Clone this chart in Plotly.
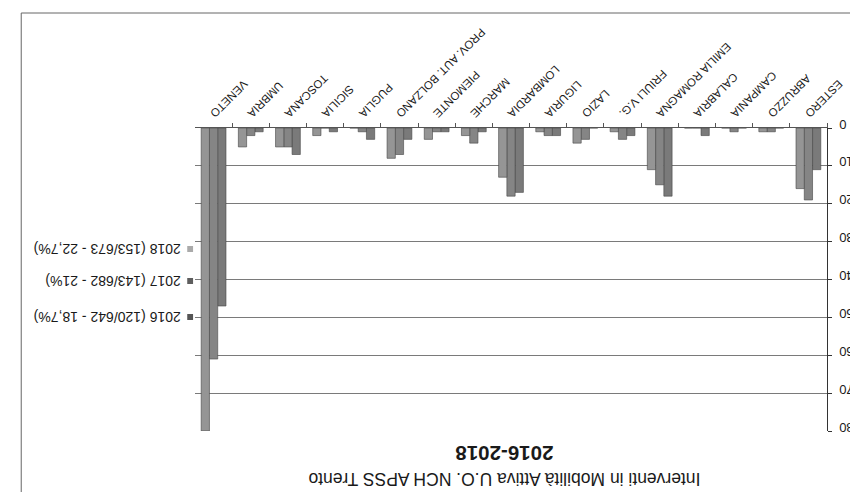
import plotly.graph_objects as go

categories = ["ESTERO", "ABRUZZO", "CAMPANIA", "CALABRIA", "EMILIA ROMAGNA",
              "FRIULI V.G.", "LAZIO", "LIGURIA", "LOMBARDIA", "MARCHE",
              "PIEMONTE", "PROV. AUT. BOLZANO", "PUGLIA", "SICILIA",
              "TOSCANA", "UMBRIA", "VENETO"]
v2016 = [11, 0, 0, 2, 18, 2, 0, 2, 17, 1, 1, 3, 3, 1, 7, 1, 47]
v2017 = [19, 1, 1, 0, 15, 3, 3, 2, 18, 4, 1, 7, 1, 0, 5, 2, 61]
v2018 = [16, 1, 0, 0, 11, 1, 4, 1, 13, 2, 3, 8, 0, 2, 5, 5, 80]
series_names = ["2016 (120/642 - 18,7%)", "2017 (143/682 - 21%)", "2018 (153/673 - 22,7%)"]
y_tick_values = [0, 10, 20, 30, 40, 50, 60, 70, 80]
y_tick_labels = ["\u20070", "10", "20", "30", "40", "50", "60", "70", "80"]
series_colors = ["#7a7a7a", "#858585", "#959595"]
marker_colors = ["#555555", "#5e5e5e", "#aaaaaa"]
title_line1 = "Interventi in Mobilità Attiva U.O. NCH APSS Trento"
title_line2 = "2016-2018"

W, H = 858, 492
PL, PR, PT, PB = 187, 838, 120, 423  # plot area in pixels


def px(x):
    return (x - PL) / (PR - PL)


def py(y):
    return (PB - y) / (PB - PT)


fig = go.Figure()
for name, vals, col in zip(series_names, [v2016, v2017, v2018], series_colors):
    fig.add_trace(go.Bar(x=categories, y=vals, name=name,
                         marker=dict(color=col, line=dict(color="#444444", width=0.6))))

fig.update_layout(
    width=W, height=H,
    margin=dict(l=PL, r=W - PR, t=PT, b=H - PB, pad=0),
    barmode="group", bargap=0.333, bargroupgap=0,
    showlegend=False,
    plot_bgcolor="white", paper_bgcolor="white",
    font=dict(family="Liberation Sans", color="#222222"),
)
fig.update_xaxes(
    type="category", categoryorder="array", categoryarray=categories,
    autorange="reversed", side="top", tickangle=135,
    tickfont=dict(size=11.5, color="#1a1a1a"),
    showline=True, linecolor="#555555", linewidth=1,
    ticks="outside", tickson="boundaries", ticklen=4, tickcolor="#555555",
    showgrid=False,
)
fig.update_yaxes(
    range=[80, 0], tickmode="array", tickvals=y_tick_values, ticktext=y_tick_labels,
    side="right", tickangle=180, ticklabelstandoff=19,
    tickfont=dict(size=13, color="#1a1a1a"),
    showgrid=True, gridcolor="#7a7a7a", gridwidth=1,
    showline=True, linecolor="#333333", linewidth=1,
    ticks="outside", ticklen=4, tickcolor="#333333",
    zeroline=False,
)

# legend (rendered rotated like the reference)
leg_y = [309, 273, 241]
for name, y, mc in zip(series_names, leg_y, marker_colors):
    fig.add_annotation(xref="paper", yref="paper", x=px(174), y=py(y),
                       text=name, textangle=180, showarrow=False,
                       xanchor="right", yanchor="middle",
                       font=dict(size=14, color="#1a1a1a"))
    fig.add_shape(type="rect", xref="paper", yref="paper",
                  x0=px(179), x1=px(185), y0=py(y - 3), y1=py(y + 3),
                  fillcolor=mc, line=dict(width=0))

# title (two lines, rotated)
fig.add_annotation(xref="paper", yref="paper", x=px(506), y=py(471),
                   text=title_line1, textangle=180, showarrow=False,
                   xanchor="center", yanchor="middle",
                   font=dict(size=17.5, color="#1a1a1a"))
fig.add_annotation(xref="paper", yref="paper", x=px(506), y=py(446),
                   text="<b>" + title_line2 + "</b>", textangle=180, showarrow=False,
                   xanchor="center", yanchor="middle",
                   font=dict(size=20.5, color="#1a1a1a"))

# frame of the chart area
fig.add_shape(type="rect", xref="paper", yref="paper",
              x0=px(8), x1=px(900), y0=py(488), y1=py(5),
              line=dict(color="#666666", width=1))

fig.write_html("out.html")
